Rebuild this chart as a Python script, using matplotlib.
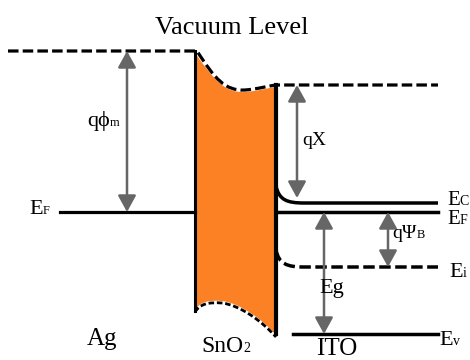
import matplotlib.pyplot as plt
from matplotlib.path import Path
from matplotlib.patches import PathPatch

# Band levels (figure rows, top = 0)
vacuum_ag = 51
vacuum_ito = 85
fermi = 212
ec_ito = 203
ei_ito = 267
ev_ito = 334
bend = 17          # band bending at the SnO2/ITO interface

# Horizontal extents
x_left = 8
x_fermi_left = 60
x_sno2 = [195, 276]
x_right = 438
x_ev_start = 293

# Region labels: (text, x, baseline)
regions = [('Ag', 102, 345), ('ITO', 337, 355)]

# Energy gap arrows: (x, y_from, y_to)
arrows = [(127, vacuum_ag, fermi),
          (297, vacuum_ito, ec_ito - 5),
          (324, fermi, ev_ito),
          (388, fermi, ei_ito)]

orange = '#FB8124'
grey = '#666666'
font = 'Liberation Serif'

fig = plt.figure(figsize=(4.7, 3.6), dpi=100)
ax = fig.add_axes([0, 0, 1, 1])
ax.set_xlim(0, 470)
ax.set_ylim(360, 0)
ax.axis('off')
renderer = fig.canvas.get_renderer()

xl, xr = x_sno2

# SnO2 layer: curved top (vacuum level) and curved bottom
top = [(xl, vacuum_ag + 2), (xl + 20, vacuum_ag + 30), (xl + 30, vacuum_ag + 42), (xl + 50, vacuum_ag + 41),
       (xl + 63, vacuum_ag + 40), (xl + 73, vacuum_ito + 3), (xr, vacuum_ito + 2)]
bottom = [(xr, ev_ito + 1), (xr - 15, 318), (xr - 37, 303), (xl + 27, 301),
          (xl + 13, 300), (xl + 5, 302), (xl, 310)]
verts = top + bottom + [top[0]]
codes = ([Path.MOVETO] + [Path.CURVE4] * 6 + [Path.LINETO] + [Path.CURVE4] * 6 + [Path.CLOSEPOLY])
ax.add_patch(PathPatch(Path(verts, codes), facecolor=orange, edgecolor='none', zorder=1))

# Vacuum level, dashed, following the top of the SnO2 layer
vac = [(x_left, vacuum_ag), (xl + 2, vacuum_ag)] + [(x, y - 2) for x, y in top[1:]] + [(x_right, vacuum_ito)]
vcodes = [Path.MOVETO, Path.LINETO] + [Path.CURVE4] * 6 + [Path.LINETO]
ax.add_patch(PathPatch(Path(vac, vcodes), facecolor='none', edgecolor='black', lw=2.3,
                       linestyle=(0, (3.3, 1.3)), capstyle='butt', zorder=3))

# Dashed lower edge of SnO2
low = [(x, y + 2) for x, y in bottom[::-1]]
ax.add_patch(PathPatch(Path(low, [Path.MOVETO] + [Path.CURVE4] * 6), facecolor='none',
                       edgecolor='black', lw=2.0, linestyle=(0, (2, 1)), zorder=3))

# SnO2 side walls
ax.plot([xl, xl], [vacuum_ag, 311], color='black', lw=2.2, zorder=4)
ax.plot([xr, xr], [vacuum_ito, ev_ito], color='black', lw=3.0, zorder=4)

# Fermi levels
ax.plot([x_fermi_left, xl], [fermi, fermi], color='black', lw=2.3, zorder=2)
ax.plot([xr, x_right], [fermi, fermi], color='black', lw=2.5, zorder=2)

# Conduction band and intrinsic level with band bending
for level, ls in [(ec_ito, '-'), (ei_ito, (0, (3.3, 1.3)))]:
    pts = [(xr, level - bend), (xr + 3, level - 3), (xr + 11, level), (xr + 28, level), (x_right, level)]
    pc = [Path.MOVETO, Path.CURVE4, Path.CURVE4, Path.CURVE4, Path.LINETO]
    ax.add_patch(PathPatch(Path(pts, pc), facecolor='none', edgecolor='black', lw=2.5,
                           linestyle=ls, zorder=2))

# Valence band
ax.plot([x_ev_start, x_right], [ev_ito, ev_ito], color='black', lw=2.5, zorder=2)

# Double arrows
for x, y0, y1 in arrows:
    ax.annotate('', xy=(x, y1), xytext=(x, y0),
                arrowprops=dict(arrowstyle='<|-|>,head_length=1.0,head_width=0.55',
                                color=grey, lw=1.8, mutation_scale=10,
                                shrinkA=0, shrinkB=0), zorder=5)


def label(x, y, main, sub='', size=15, sub_size=9):
    t = ax.text(x, y, main, fontsize=size, family=font, va='baseline', ha='left', zorder=6)
    if sub:
        # one data unit is one pixel, so the text width moves the subscript along
        w = t.get_window_extent(renderer).width
        ax.text(x + w, y, sub, fontsize=sub_size, family=font, va='baseline', ha='left', zorder=6)


ax.text(232, 34, 'Vacuum Level', fontsize=19, family=font, ha='center', va='baseline')
label(29, 214, 'E', 'F', size=16)
label(87, 126, 'qϕ', 'm', size=16)
label(302, 145, 'qΧ', size=14)
label(392, 238, 'qΨ', 'B', size=14)
label(319, 293, 'Eg', size=16)
label(447, 205, 'E', 'C', size=15, sub_size=10)
label(447, 224, 'E', 'F', size=15, sub_size=10)
label(449, 277, 'E', 'i', size=16, sub_size=10)
label(439, 345, 'E', 'v', size=16, sub_size=10)

for name, x, y in regions:
    ax.text(x, y, name, fontsize=18, family=font, ha='center', va='baseline')
label(201, 352, 'SnO', '2', size=17, sub_size=10)

fig.savefig('out.png', dpi=100)
